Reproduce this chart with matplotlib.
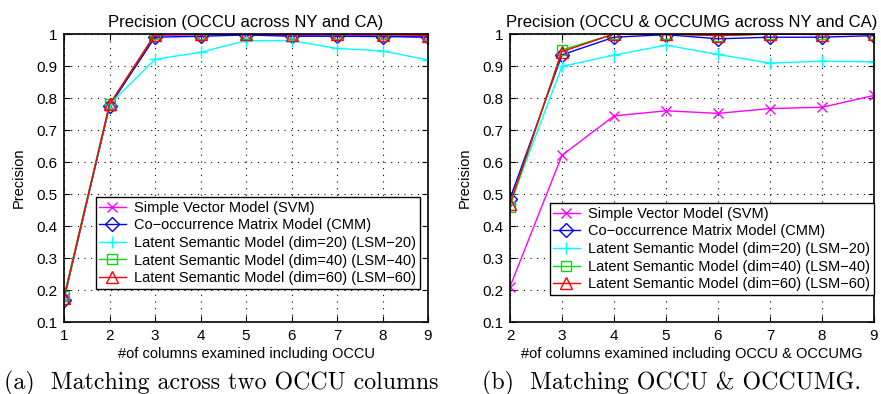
import matplotlib

matplotlib.use("Agg")
import matplotlib.pyplot as plt  # noqa: E402
from matplotlib.ticker import FuncFormatter  # noqa: E402

plt.rcParams["font.family"] = ["Liberation Sans", "DejaVu Sans"]

LABELS = ["Simple Vector Model (SVM)", "Co\u2212occurrence Matrix Model (CMM)",
          "Latent Semantic Model (dim=20) (LSM\u221220)",
          "Latent Semantic Model (dim=40) (LSM\u221240)",
          "Latent Semantic Model (dim=60) (LSM\u221260)"]
COLORS = ["magenta", "blue", "cyan", "#00dd00", "red"]
MARKERS = ["x", "D", "+", "s", "^"]
MSIZES = [7, 7, 9, 7, 8]

# (a) OCCU across NY and CA
x_a = [1, 2, 3, 4, 5, 6, 7, 8, 9]
svm_a = [0.175, 0.775, 0.995, 0.998, 0.998, 0.995, 0.997, 0.995, 0.99]
cmm_a = [0.17, 0.775, 0.99, 0.993, 0.997, 0.993, 0.993, 0.992, 0.99]
lsm20_a = [0.175, 0.78, 0.921, 0.943, 0.979, 0.979, 0.955, 0.947, 0.919]
lsm40_a = [0.18, 0.78, 1.0, 1.0, 1.0, 1.0, 1.0, 1.0, 0.998]
lsm60_a = [0.175, 0.78, 0.998, 1.0, 1.0, 0.998, 1.0, 0.998, 0.995]

# (b) OCCU & OCCUMG across NY and CA
x_b = [2, 3, 4, 5, 6, 7, 8, 9]
svm_b = [0.21, 0.621, 0.744, 0.760, 0.752, 0.767, 0.771, 0.808]
cmm_b = [0.485, 0.935, 0.99, 0.998, 0.985, 0.99, 0.99, 0.995]
lsm20_b = [0.47, 0.899, 0.934, 0.965, 0.936, 0.909, 0.915, 0.913]
lsm40_b = [0.46, 0.95, 1.0, 1.0, 0.995, 1.0, 1.0, 1.0]
lsm60_b = [0.47, 0.945, 1.0, 1.0, 0.995, 1.0, 0.998, 1.0]

PANELS = [
    ("Precision (OCCU across NY and CA)", "#of columns examined including OCCU",
     "(a)  Matching across two OCCU columns", x_a,
     [svm_a, cmm_a, lsm20_a, lsm40_a, lsm60_a], (1, 9), (0.978, 0.115), 221),
    ("Precision (OCCU & OCCUMG across NY and CA)",
     "#of columns examined including OCCU & OCCUMG",
     "(b)  Matching OCCU & OCCUMG.", x_b,
     [svm_b, cmm_b, lsm20_b, lsm40_b, lsm60_b], (2, 9), (1.0, 0.094), 672),
]


def fmt(v, _):
    return f"{v:g}"


def main() -> None:
    fig = plt.figure(figsize=(8.81, 3.94), dpi=100)
    lefts = [64 / 881, 510 / 881]
    for left, (title, xlabel, caption, xs, series, xlim, anchor, cx) in zip(lefts, PANELS):
        ax = fig.add_axes([left, 72 / 394, 364 / 881, 288 / 394])
        for ys, lab, c, m, ms in zip(series, LABELS, COLORS, MARKERS, MSIZES):
            ax.plot(xs, ys, color=c, marker=m, ms=ms, mfc="none", mec=c,
                    lw=1.0, mew=1.0, label=lab)
        ax.set_xlim(*xlim)
        ax.set_ylim(0.1, 1.0)
        ax.set_xticks(range(xlim[0], xlim[1] + 1))
        ax.set_yticks([i / 10 for i in range(1, 11)])
        ax.yaxis.set_major_formatter(FuncFormatter(fmt))
        ax.grid(True, color="black", ls=(0, (1, 5)), lw=0.8)
        ax.tick_params(direction="in", labelsize=11, length=4, top=True, right=True,
                       pad=5)
        for sp in ax.spines.values():
            sp.set_linewidth(1.2)
        ax.set_title(title, fontsize=12, pad=5)
        ax.set_xlabel(xlabel, fontsize=10.5, labelpad=3)
        ax.set_ylabel("Precision", fontsize=10.5, labelpad=7)
        ax.legend(loc="lower right", bbox_to_anchor=anchor, fontsize=10.5,
                  fancybox=False, edgecolor="black", framealpha=1, borderpad=0.25,
                  labelspacing=0.25, handlelength=1.8, handletextpad=0.6,
                  borderaxespad=0.0)
        fig.text(cx / 881, 5 / 394, caption, ha="center", va="baseline",
                 fontsize=17.2, family="cmr10")
    fig.savefig("out.png", dpi=100)


if __name__ == "__main__":
    main()
